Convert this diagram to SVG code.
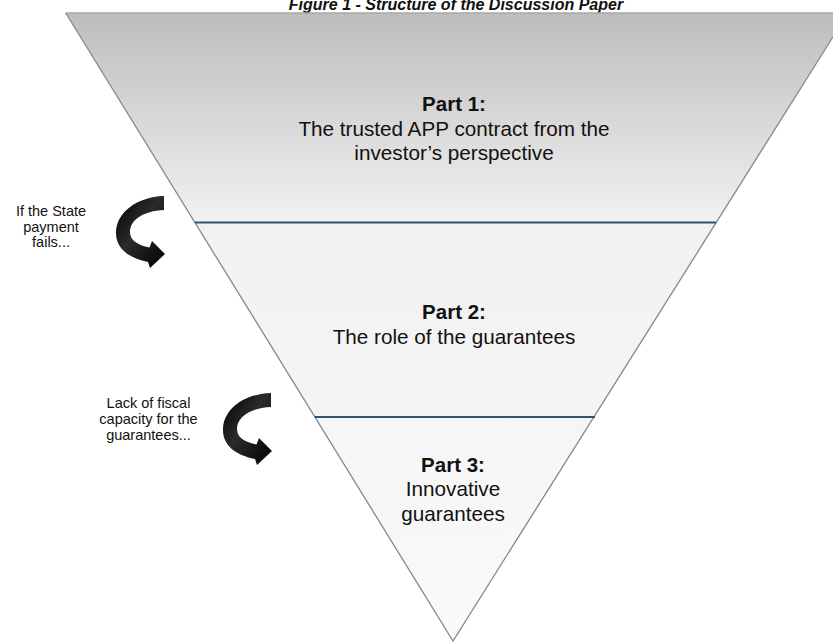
<svg xmlns="http://www.w3.org/2000/svg" width="833" height="644" viewBox="0 0 833 644">
  <defs>
    <linearGradient id="funnelFill" gradientUnits="userSpaceOnUse" x1="0" y1="13" x2="0" y2="641">
      <stop offset="0" stop-color="#bdbdbd"/>
      <stop offset="0.33" stop-color="#f1f1f1"/>
      <stop offset="1" stop-color="#fafafa"/>
    </linearGradient>
    <linearGradient id="arrowFill" x1="0" y1="0" x2="1" y2="1">
      <stop offset="0" stop-color="#000"/>
      <stop offset="0.45" stop-color="#2b2b2b"/>
      <stop offset="1" stop-color="#000"/>
    </linearGradient>
    <!-- curved arrow that bends back to the right -->
    <path id="curlArrow" d="M164 196 C136 197 116 213 116 233 C116 248 128 258 148 262 L150 268 L165 254 L152 241 L149.5 247.5 C137 245 130 240 130 232 C130 220 143 211 164 210 Z"/>
  </defs>
  <style>
    .edge { fill: none; stroke: #7f8997; stroke-width: 1.3; }
    .topEdge { fill: none; stroke: #a9a9a9; stroke-width: 1.5; }
    .divider { stroke: #2e5471; stroke-width: 2.2; }
    .title { font-family: "Liberation Sans", Arial, sans-serif; font-size: 16px; font-weight: bold; font-style: italic; fill: #111; }
    .head { font-family: "Liberation Sans", Arial, sans-serif; font-size: 20.5px; font-weight: bold; fill: #111; text-anchor: middle; }
    .body { font-family: "Liberation Sans", Arial, sans-serif; font-size: 20.7px; fill: #111; text-anchor: middle; }
    .note { font-family: "Liberation Sans", Arial, sans-serif; font-size: 14.5px; fill: #111; text-anchor: middle; }
    .arrow { fill: url(#arrowFill); }
  </style>

  <rect x="0" y="0" width="833" height="644" fill="#ffffff"/>

  <text class="title" x="456" y="10" text-anchor="middle">Figure 1 - Structure of the Discussion Paper</text>

  <!-- inverted funnel -->
  <g id="funnel">
    <polygon points="65.7,13 848,13 453,641" fill="url(#funnelFill)"/>
    <line class="topEdge" x1="65.7" y1="13" x2="833" y2="13"/>
    <polyline class="edge" points="65.7,13 453,641 848,13"/>
  </g>

  <g id="connectors">
    <line class="divider" x1="195" y1="222.5" x2="716" y2="222.5"/>
    <line class="divider" x1="315" y1="417" x2="595" y2="417"/>
    <use href="#curlArrow" class="arrow"/>
    <use href="#curlArrow" class="arrow" transform="translate(107,197)"/>
  </g>

  <g id="part1">
    <text class="head" x="454" y="111">Part 1:</text>
    <text class="body" x="454" y="135.5">The trusted APP contract from the</text>
    <text class="body" x="454" y="160">investor’s perspective</text>
  </g>

  <g id="part2">
    <text class="head" x="454" y="319">Part 2:</text>
    <text class="body" x="454" y="343.5">The role of the guarantees</text>
  </g>

  <g id="part3">
    <text class="head" x="453" y="471.5">Part 3:</text>
    <text class="body" x="453" y="496">Innovative</text>
    <text class="body" x="453" y="520.5">guarantees</text>
  </g>

  <g id="note1">
    <text class="note" x="51" y="216">If the State</text>
    <text class="note" x="51" y="231.5">payment</text>
    <text class="note" x="51" y="247">fails...</text>
  </g>

  <g id="note2">
    <text class="note" x="148.5" y="408">Lack of fiscal</text>
    <text class="note" x="148.5" y="424">capacity for the</text>
    <text class="note" x="148.5" y="440">guarantees...</text>
  </g>
</svg>
